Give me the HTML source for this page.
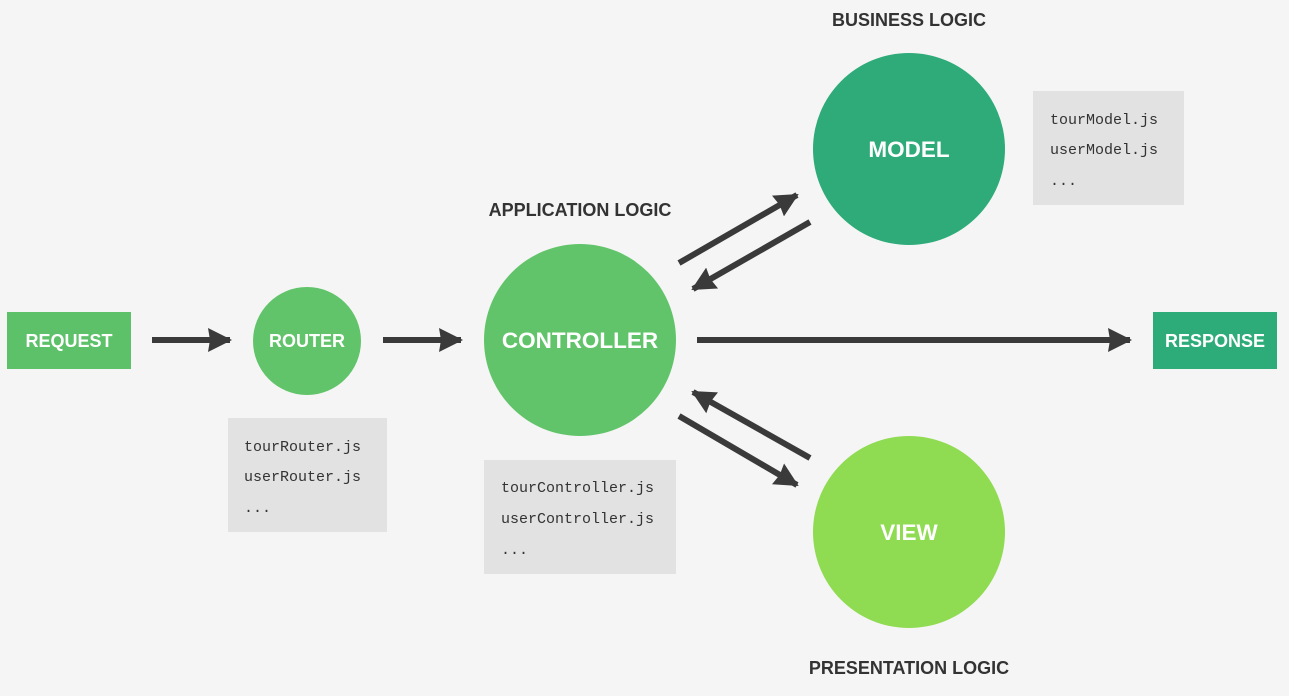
<!DOCTYPE html>
<html><head><style>
html,body{margin:0;padding:0;background:#f5f5f5;}
svg{display:block}
text{font-family:"Liberation Sans",sans-serif;}
.m{font-family:"Liberation Mono",monospace;font-size:15px;fill:#333}
.h{font-weight:bold;font-size:18px;fill:#333}
.w{fill:#fff;font-weight:bold}
</style></head><body>
<svg width="1289" height="696" viewBox="0 0 1289 696" xmlns="http://www.w3.org/2000/svg">
<defs>
<marker id="a" markerWidth="24" markerHeight="24" refX="22" refY="12" orient="auto" markerUnits="userSpaceOnUse">
<path d="M0,0 L24,12 L0,24 L2,12 Z" fill="#3a3a3a"/>
</marker>
</defs>
<rect width="1289" height="696" fill="#f5f5f5"/>
<rect x="7" y="312" width="124" height="57" fill="#5cc168"/>
<text x="69" y="347" class="w" text-anchor="middle" font-size="18">REQUEST</text>
<circle cx="307" cy="341" r="54" fill="#62c46a"/>
<text x="307" y="347" class="w" text-anchor="middle" font-size="18">ROUTER</text>
<circle cx="580" cy="340" r="96" fill="#62c46a"/>
<text x="580" y="348" class="w" text-anchor="middle" font-size="22.5">CONTROLLER</text>
<circle cx="909" cy="149" r="96" fill="#2eab79"/>
<text x="909" y="157" class="w" text-anchor="middle" font-size="22.5">MODEL</text>
<circle cx="909" cy="532" r="96" fill="#8fdb52"/>
<text x="909" y="540" class="w" text-anchor="middle" font-size="22.5">VIEW</text>
<rect x="1153" y="312" width="124" height="57" fill="#2dab78"/>
<text x="1215" y="347" class="w" text-anchor="middle" font-size="18">RESPONSE</text>
<text x="909" y="26" class="h" text-anchor="middle">BUSINESS LOGIC</text>
<text x="580" y="216" class="h" text-anchor="middle">APPLICATION LOGIC</text>
<text x="909" y="674" class="h" text-anchor="middle">PRESENTATION LOGIC</text>
<rect x="228" y="418" width="159" height="114" fill="#e2e2e2"/>
<text x="244" y="451" class="m">tourRouter.js</text>
<text x="244" y="481" class="m">userRouter.js</text>
<text x="244" y="512" class="m">...</text>
<rect x="484" y="460" width="192" height="114" fill="#e2e2e2"/>
<text x="501" y="492" class="m">tourController.js</text>
<text x="501" y="523" class="m">userController.js</text>
<text x="501" y="554" class="m">...</text>
<rect x="1033" y="91" width="151" height="114" fill="#e2e2e2"/>
<text x="1050" y="124" class="m">tourModel.js</text>
<text x="1050" y="154" class="m">userModel.js</text>
<text x="1050" y="185" class="m">...</text>
<g stroke="#3a3a3a" stroke-width="6" fill="none" marker-end="url(#a)">
<line x1="152" y1="340" x2="230" y2="340"/>
<line x1="383" y1="340" x2="461" y2="340"/>
<line x1="697" y1="340" x2="1130" y2="340"/>
<line x1="679" y1="263" x2="797" y2="195"/>
<line x1="810" y1="222" x2="693" y2="289"/>
<line x1="810" y1="458" x2="693" y2="392"/>
<line x1="679" y1="416" x2="797" y2="485"/>
</g>
</svg>
</body></html>
